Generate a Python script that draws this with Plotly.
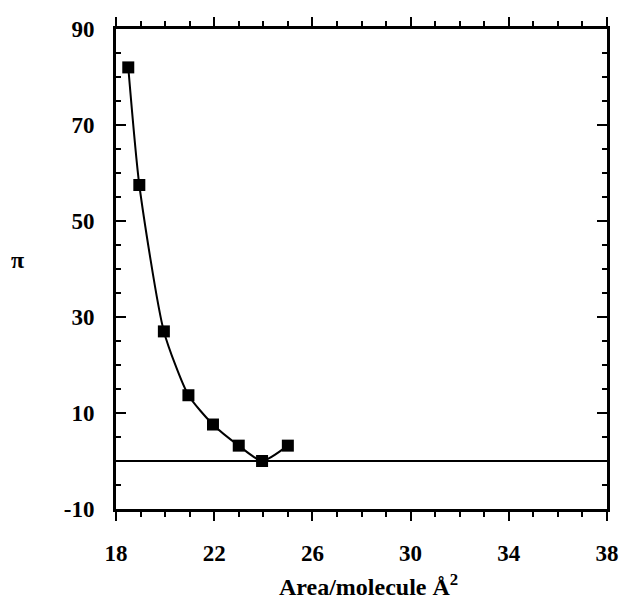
import plotly.graph_objects as go

area = [18.5, 18.95, 19.95, 20.95, 21.95, 23.0, 23.95, 25.0]
pressure = [82.0, 57.5, 27.0, 13.7, 7.6, 3.2, 0.0, 3.2]

x_ticks = [18, 22, 26, 30, 34, 38]
x_labels = ["18", "22", "26", "30", "34", "38"]
y_ticks = [-10, 10, 30, 50, 70, 90]
y_labels = ["-10", "10", "30", "50", "70", "90"]

tick_font = dict(family="Liberation Serif", size=23, color="black", weight="bold")
title_font = dict(family="Liberation Serif", size=24, color="black", weight="bold")

fig = go.Figure()
fig.add_trace(go.Scatter(
    x=area, y=pressure, mode="lines+markers",
    line=dict(color="black", width=2, shape="spline", smoothing=0.6),
    marker=dict(symbol="square", size=12, color="black"),
    showlegend=False,
))

fig.update_layout(
    width=627, height=602,
    margin=dict(l=116, r=20, t=29, b=93, autoexpand=False),
    paper_bgcolor="white", plot_bgcolor="white",
    font=tick_font,
    xaxis=dict(
        range=[18, 38], tickvals=x_ticks, ticktext=x_labels, ticks="outside", ticklen=9, tickwidth=2,
        tickcolor="black", showline=True, linecolor="black", linewidth=3,
        mirror="ticks", showgrid=False, zeroline=False, automargin=False,
        minor=dict(dtick=1, tick0=18, ticks="outside", ticklen=5, tickwidth=2, tickcolor="black"),
        tickfont=tick_font, ticklabelstandoff=12,
    ),
    yaxis=dict(
        range=[-10, 90], tickvals=y_ticks, ticktext=y_labels, ticks="inside", ticklen=10, tickwidth=2,
        tickcolor="black", showline=True, linecolor="black", linewidth=3,
        mirror="ticks", showgrid=False, automargin=False,
        zeroline=True, zerolinecolor="black", zerolinewidth=2,
        minor=dict(dtick=5, tick0=-10, ticks="inside", ticklen=5, tickwidth=2, tickcolor="black"),
        tickfont=tick_font, ticklabelstandoff=14,
    ),
    annotations=[
        dict(text="π", xref="paper", yref="paper", x=-0.2, y=0.519,
             showarrow=False, font=title_font, xanchor="center", yanchor="middle"),
        dict(text="Area/molecule Å<sup>2</sup>", xref="paper", yref="paper", x=0.515, y=-0.158,
             showarrow=False, font=title_font, xanchor="center", yanchor="middle"),
    ],
)

fig.write_html("out.html")
